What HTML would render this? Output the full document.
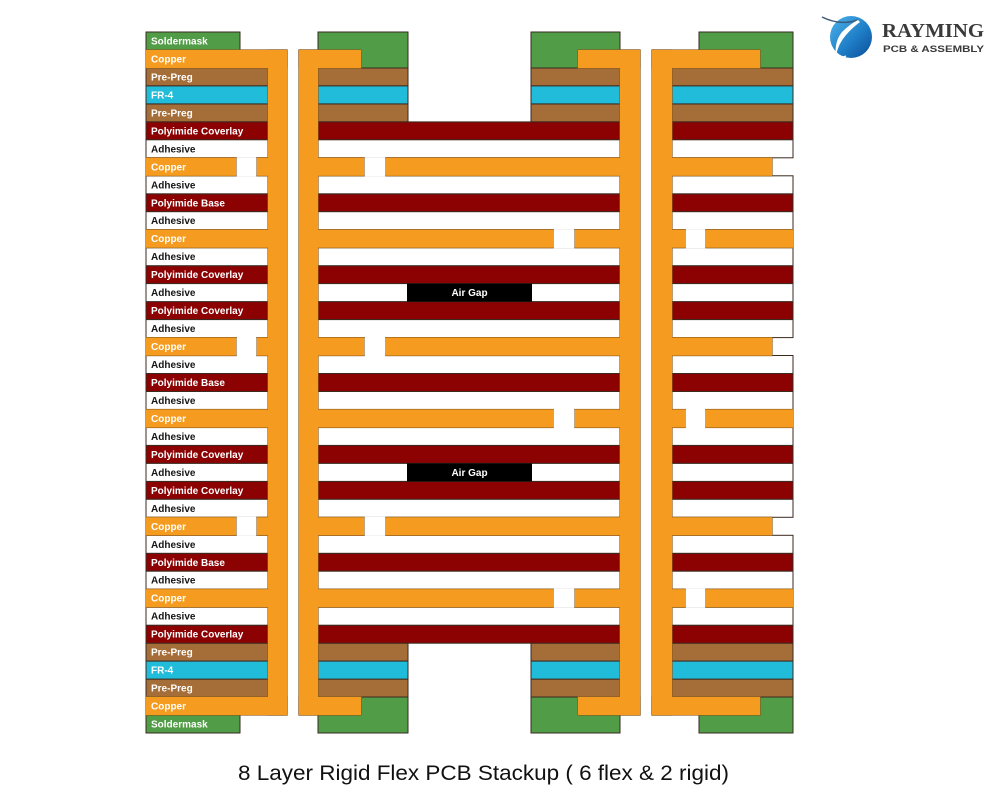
<!DOCTYPE html>
<html><head><meta charset="utf-8"><style>
html,body{margin:0;padding:0;background:#fff;}
svg{display:block;}
.lb{font-family:"Liberation Sans",Arial,sans-serif;font-weight:bold;font-size:10px;fill:#fff;}
.dk{fill:#151515;}
</style></head><body>
<svg width="1000" height="800" viewBox="0 0 1000 800" xmlns="http://www.w3.org/2000/svg">
<defs>
<linearGradient id="lg" x1="0" y1="0" x2="1" y2="1">
<stop offset="0" stop-color="#4fb3ea"/><stop offset="0.55" stop-color="#1f7fc8"/><stop offset="1" stop-color="#0b4c96"/>
</linearGradient>
</defs>
<rect width="1000" height="800" fill="#fff"/>

<!-- Layer rects -->
<g stroke="#3a2a20" stroke-width="1">
<g fill="#a56d37">
<rect x="146" y="67.9" width="122" height="18"/><rect x="318" y="67.9" width="90" height="18"/><rect x="531" y="67.9" width="89" height="18"/><rect x="672" y="67.9" width="121" height="18"/>
<rect x="146" y="103.9" width="122" height="18"/><rect x="318" y="103.9" width="90" height="18"/><rect x="531" y="103.9" width="89" height="18"/><rect x="672" y="103.9" width="121" height="18"/>
<rect x="146" y="643.1" width="122" height="18"/><rect x="318" y="643.1" width="90" height="18"/><rect x="531" y="643.1" width="89" height="18"/><rect x="672" y="643.1" width="121" height="18"/>
<rect x="146" y="679.1" width="122" height="18"/><rect x="318" y="679.1" width="90" height="18"/><rect x="531" y="679.1" width="89" height="18"/><rect x="672" y="679.1" width="121" height="18"/>
</g>
<g fill="#21bcd9">
<rect x="146" y="85.9" width="122" height="18"/><rect x="318" y="85.9" width="90" height="18"/><rect x="531" y="85.9" width="89" height="18"/><rect x="672" y="85.9" width="121" height="18"/>
<rect x="146" y="661.1" width="122" height="18"/><rect x="318" y="661.1" width="90" height="18"/><rect x="531" y="661.1" width="89" height="18"/><rect x="672" y="661.1" width="121" height="18"/>
</g>
<g fill="#8c0203">
<rect x="146" y="121.9" width="122" height="18"/><rect x="318" y="121.9" width="302" height="18"/><rect x="672" y="121.9" width="121" height="18"/>
<rect x="146" y="193.8" width="122" height="18"/><rect x="318" y="193.8" width="302" height="18"/><rect x="672" y="193.8" width="121" height="18"/>
<rect x="146" y="265.7" width="122" height="18"/><rect x="318" y="265.7" width="302" height="18"/><rect x="672" y="265.7" width="121" height="18"/>
<rect x="146" y="301.6" width="122" height="18"/><rect x="318" y="301.6" width="302" height="18"/><rect x="672" y="301.6" width="121" height="18"/>
<rect x="146" y="373.5" width="122" height="18"/><rect x="318" y="373.5" width="302" height="18"/><rect x="672" y="373.5" width="121" height="18"/>
<rect x="146" y="445.4" width="122" height="18"/><rect x="318" y="445.4" width="302" height="18"/><rect x="672" y="445.4" width="121" height="18"/>
<rect x="146" y="481.4" width="122" height="18"/><rect x="318" y="481.4" width="302" height="18"/><rect x="672" y="481.4" width="121" height="18"/>
<rect x="146" y="553.3" width="122" height="18"/><rect x="318" y="553.3" width="302" height="18"/><rect x="672" y="553.3" width="121" height="18"/>
<rect x="146" y="625.2" width="122" height="18"/><rect x="318" y="625.2" width="302" height="18"/><rect x="672" y="625.2" width="121" height="18"/>
</g>
<g fill="#ffffff">
<rect x="146" y="139.8" width="122" height="18"/><rect x="318" y="139.8" width="302" height="18"/><rect x="672" y="139.8" width="121" height="18"/>
<rect x="146" y="175.8" width="122" height="18"/><rect x="318" y="175.8" width="302" height="18"/><rect x="672" y="175.8" width="121" height="18"/>
<rect x="146" y="211.7" width="122" height="18"/><rect x="318" y="211.7" width="302" height="18"/><rect x="672" y="211.7" width="121" height="18"/>
<rect x="146" y="247.7" width="122" height="18"/><rect x="318" y="247.7" width="302" height="18"/><rect x="672" y="247.7" width="121" height="18"/>
<rect x="146" y="283.6" width="122" height="18"/><rect x="318" y="283.6" width="302" height="18"/><rect x="672" y="283.6" width="121" height="18"/>
<rect x="146" y="319.6" width="122" height="18"/><rect x="318" y="319.6" width="302" height="18"/><rect x="672" y="319.6" width="121" height="18"/>
<rect x="146" y="355.5" width="122" height="18"/><rect x="318" y="355.5" width="302" height="18"/><rect x="672" y="355.5" width="121" height="18"/>
<rect x="146" y="391.5" width="122" height="18"/><rect x="318" y="391.5" width="302" height="18"/><rect x="672" y="391.5" width="121" height="18"/>
<rect x="146" y="427.4" width="122" height="18"/><rect x="318" y="427.4" width="302" height="18"/><rect x="672" y="427.4" width="121" height="18"/>
<rect x="146" y="463.4" width="122" height="18"/><rect x="318" y="463.4" width="302" height="18"/><rect x="672" y="463.4" width="121" height="18"/>
<rect x="146" y="499.3" width="122" height="18"/><rect x="318" y="499.3" width="302" height="18"/><rect x="672" y="499.3" width="121" height="18"/>
<rect x="146" y="535.3" width="122" height="18"/><rect x="318" y="535.3" width="302" height="18"/><rect x="672" y="535.3" width="121" height="18"/>
<rect x="146" y="571.2" width="122" height="18"/><rect x="318" y="571.2" width="302" height="18"/><rect x="672" y="571.2" width="121" height="18"/>
<rect x="146" y="607.2" width="122" height="18"/><rect x="318" y="607.2" width="302" height="18"/><rect x="672" y="607.2" width="121" height="18"/>
</g>
<g fill="#519c46">
<rect x="146" y="32" width="94" height="18"/><rect x="318" y="32" width="90" height="36"/><rect x="531" y="32" width="89" height="36"/><rect x="699" y="32" width="94" height="36"/>
<rect x="146" y="715" width="94" height="18"/><rect x="318" y="697" width="90" height="36"/><rect x="531" y="697" width="89" height="36"/><rect x="699" y="697" width="94" height="36"/>
</g>
</g>

<!-- Copper: stroke pass then fill pass -->
<g stroke="#8a5a1c" stroke-width="1.2" fill="#f59b1f">
<g id="cu">
<rect x="268" y="50" width="19" height="665"/>
<rect x="299" y="50" width="19" height="665"/>
<rect x="620" y="50" width="20" height="665"/>
<rect x="652" y="50" width="20" height="665"/>
<rect x="146" y="50" width="141" height="18"/><rect x="299" y="50" width="62" height="18"/><rect x="578" y="50" width="62" height="18"/><rect x="652" y="50" width="108" height="18"/>
<rect x="146" y="697" width="141" height="18"/><rect x="299" y="697" width="62" height="18"/><rect x="578" y="697" width="62" height="18"/><rect x="652" y="697" width="108" height="18"/>
<rect x="146" y="157.8" width="90" height="18"/><rect x="257" y="157.8" width="21" height="18"/><rect x="308" y="157.8" width="56" height="18"/><rect x="386" y="157.8" width="244" height="18"/><rect x="662" y="157.8" width="110" height="18"/>
<rect x="146" y="337.6" width="90" height="18"/><rect x="257" y="337.6" width="21" height="18"/><rect x="308" y="337.6" width="56" height="18"/><rect x="386" y="337.6" width="244" height="18"/><rect x="662" y="337.6" width="110" height="18"/>
<rect x="146" y="517.3" width="90" height="18"/><rect x="257" y="517.3" width="21" height="18"/><rect x="308" y="517.3" width="56" height="18"/><rect x="386" y="517.3" width="244" height="18"/><rect x="662" y="517.3" width="110" height="18"/>
<rect x="146" y="229.7" width="132" height="18"/><rect x="308" y="229.7" width="245" height="18"/><rect x="575" y="229.7" width="55" height="18"/><rect x="662" y="229.7" width="23" height="18"/><rect x="706" y="229.7" width="87" height="18"/>
<rect x="146" y="409.5" width="132" height="18"/><rect x="308" y="409.5" width="245" height="18"/><rect x="575" y="409.5" width="55" height="18"/><rect x="662" y="409.5" width="23" height="18"/><rect x="706" y="409.5" width="87" height="18"/>
<rect x="146" y="589.2" width="132" height="18"/><rect x="308" y="589.2" width="245" height="18"/><rect x="575" y="589.2" width="55" height="18"/><rect x="662" y="589.2" width="23" height="18"/><rect x="706" y="589.2" width="87" height="18"/>
</g>
</g>
<use href="#cu" stroke="none" fill="#f59b1f"/>

<!-- white covers over copper gaps (no border lines across gaps) -->
<g fill="#fff">
<rect x="236.7" y="157.2" width="19.6" height="19.2"/><rect x="364.7" y="157.2" width="20.6" height="19.2"/>
<rect x="236.7" y="337" width="19.6" height="19.2"/><rect x="364.7" y="337" width="20.6" height="19.2"/>
<rect x="236.7" y="516.7" width="19.6" height="19.2"/><rect x="364.7" y="516.7" width="20.6" height="19.2"/>
<rect x="553.7" y="229.1" width="20.6" height="19.2"/><rect x="685.7" y="229.1" width="19.6" height="19.2"/>
<rect x="553.7" y="408.9" width="20.6" height="19.2"/><rect x="685.7" y="408.9" width="19.6" height="19.2"/>
<rect x="553.7" y="588.6" width="20.6" height="19.2"/><rect x="685.7" y="588.6" width="19.6" height="19.2"/>
</g>

<!-- Air gaps -->
<rect x="407" y="283.6" width="125" height="18" fill="#000"/>
<rect x="407" y="463.4" width="125" height="18" fill="#000"/>
<text x="469.5" y="296" text-anchor="middle" class="lb" font-size="9">Air Gap</text>
<text x="469.5" y="475.8" text-anchor="middle" class="lb" font-size="9">Air Gap</text>

<!-- Labels -->
<g class="lb">
<text x="151" y="44.5">Soldermask</text>
<text x="151" y="62.5">Copper</text>
<text x="151" y="80.4">Pre-Preg</text>
<text x="151" y="98.4">FR-4</text>
<text x="151" y="116.4">Pre-Preg</text>
<text x="151" y="134.4">Polyimide Coverlay</text>
<text x="151" y="152.3" class="lb dk">Adhesive</text>
<text x="151" y="170.3">Copper</text>
<text x="151" y="188.3" class="lb dk">Adhesive</text>
<text x="151" y="206.3">Polyimide Base</text>
<text x="151" y="224.2" class="lb dk">Adhesive</text>
<text x="151" y="242.2">Copper</text>
<text x="151" y="260.2" class="lb dk">Adhesive</text>
<text x="151" y="278.2">Polyimide Coverlay</text>
<text x="151" y="296.1" class="lb dk">Adhesive</text>
<text x="151" y="314.1">Polyimide Coverlay</text>
<text x="151" y="332.1" class="lb dk">Adhesive</text>
<text x="151" y="350.1">Copper</text>
<text x="151" y="368" class="lb dk">Adhesive</text>
<text x="151" y="386">Polyimide Base</text>
<text x="151" y="404" class="lb dk">Adhesive</text>
<text x="151" y="422">Copper</text>
<text x="151" y="439.9" class="lb dk">Adhesive</text>
<text x="151" y="457.9">Polyimide Coverlay</text>
<text x="151" y="475.9" class="lb dk">Adhesive</text>
<text x="151" y="493.9">Polyimide Coverlay</text>
<text x="151" y="511.8" class="lb dk">Adhesive</text>
<text x="151" y="529.8">Copper</text>
<text x="151" y="547.8" class="lb dk">Adhesive</text>
<text x="151" y="565.8">Polyimide Base</text>
<text x="151" y="583.7" class="lb dk">Adhesive</text>
<text x="151" y="601.7">Copper</text>
<text x="151" y="619.7" class="lb dk">Adhesive</text>
<text x="151" y="637.7">Polyimide Coverlay</text>
<text x="151" y="655.6">Pre-Preg</text>
<text x="151" y="673.6">FR-4</text>
<text x="151" y="691.6">Pre-Preg</text>
<text x="151" y="709.6">Copper</text>
<text x="151" y="727.5">Soldermask</text>
</g>

<!-- Caption -->
<text x="238" y="780" font-family="'Liberation Sans',Arial,sans-serif" font-size="21" fill="#111" textLength="491" lengthAdjust="spacingAndGlyphs">8 Layer Rigid Flex PCB Stackup ( 6 flex &amp; 2 rigid)</text>

<!-- Logo -->
<circle cx="851" cy="37" r="21" fill="url(#lg)"/>
<path d="M822 17 Q840 26 858 20" stroke="#3d5a78" stroke-width="1.5" fill="none"/>
<path d="M858 20 Q850 24 842 32 Q834 42 836 56 Q838 44 846 35 Q852 28 860 22 Z" fill="#fff"/>
<path d="M836 56 Q842 58 846 56" stroke="#fff" stroke-width="1.5" fill="none"/>
<text x="882" y="37" font-family="'Liberation Serif','Times New Roman',serif" font-weight="bold" font-size="20" fill="#3a3a3a" textLength="102" lengthAdjust="spacingAndGlyphs">RAYMING</text>
<text x="883" y="52" font-family="'Liberation Sans',Arial,sans-serif" font-weight="bold" font-size="9.5" fill="#3a3a3a" textLength="101" lengthAdjust="spacingAndGlyphs">PCB &amp; ASSEMBLY</text>
</svg>
</body></html>
